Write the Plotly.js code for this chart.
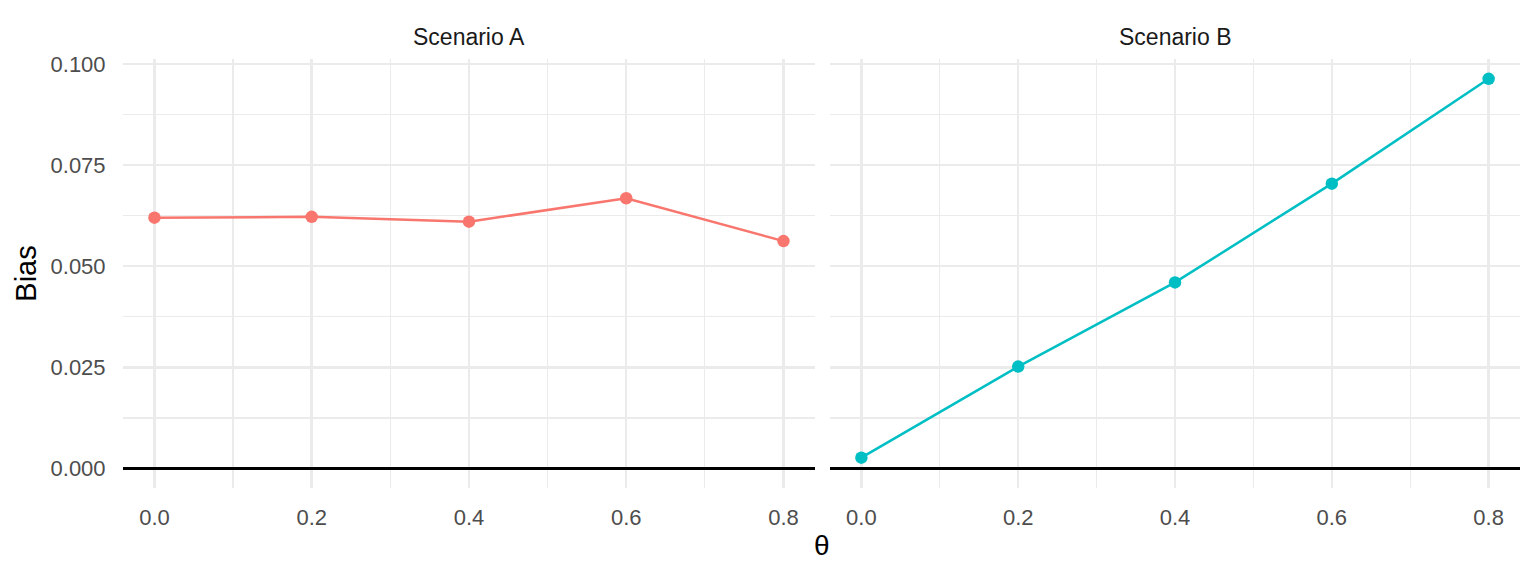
<!DOCTYPE html>
<html>
<head>
<meta charset="utf-8">
<script src="https://cdn.plot.ly/plotly-3.0.1.min.js"></script>
<style>
  html, body { margin: 0; padding: 0; background: #fff; }
  #chart { width: 1536px; height: 576px; }
</style>
</head>
<body>
<div id="chart"></div>
<script>
// theta values shared by both panels
const theta = [0.0, 0.2, 0.4, 0.6, 0.8];
// bias
const biasA = [0.0620, 0.0622, 0.0610, 0.0668, 0.0562];
const biasB = [0.0027, 0.0252, 0.0460, 0.0704, 0.0963];
const panelNames = ['Scenario A', 'Scenario B'];
const panelColors = ['#F8766D', '#00BFC4'];

const FONT = 'Liberation Sans, Arial, sans-serif';
const GRID = '#EBEBEB';

const traces = [
    { x: theta, y: biasA, type: 'scatter', mode: 'lines+markers', name: panelNames[0],
      xaxis: 'x', yaxis: 'y',
      line: {color: panelColors[0], width: 2.5}, marker: {color: panelColors[0], size: 12.5} },
    { x: theta, y: biasB, type: 'scatter', mode: 'lines+markers', name: panelNames[1],
      xaxis: 'x2', yaxis: 'y2',
      line: {color: panelColors[1], width: 2.5}, marker: {color: panelColors[1], size: 12.5} }
];

// axis settings shared by both facets
const xBase = {
    range: [-0.04, 0.84], tick0: 0, dtick: 0.2, tickformat: '.1f',
    showgrid: true, gridcolor: GRID, gridwidth: 2.5,
    minor: {dtick: 0.1, showgrid: true, gridcolor: GRID, gridwidth: 1.3},
    zeroline: false, showline: false,
    ticks: 'outside', ticklen: 10, tickcolor: 'rgba(0,0,0,0)',
    tickfont: {family: FONT, size: 22, color: '#4D4D4D'}
};
const yBase = {
    range: [-0.0048, 0.1012], tick0: 0, dtick: 0.025, tickformat: '.3f',
    showgrid: true, gridcolor: GRID, gridwidth: 2.5,
    minor: {dtick: 0.0125, showgrid: true, gridcolor: GRID, gridwidth: 1.3},
    zeroline: true, zerolinecolor: '#000000', zerolinewidth: 2.5, showline: false,
    ticks: 'outside', ticklen: 12, tickcolor: 'rgba(0,0,0,0)',
    tickfont: {family: FONT, size: 22, color: '#4D4D4D'}
};

const layout = {
    width: 1536, height: 576,
    margin: {l: 123, r: 16, t: 59, b: 88},
    paper_bgcolor: '#ffffff', plot_bgcolor: '#ffffff',
    showlegend: false,
    font: {family: FONT},
    xaxis: {...xBase, domain: [0, 0.4953], anchor: 'y'},
    xaxis2: {...xBase, domain: [0.5061, 1], anchor: 'y2'},
    yaxis: {...yBase, anchor: 'x'},
    yaxis2: {...yBase, anchor: 'x2', matches: 'y', showticklabels: false},
    annotations: [
        { text: panelNames[0], xref: 'x domain', yref: 'y domain', x: 0.5, y: 1,
          xanchor: 'center', yanchor: 'bottom', yshift: 7, showarrow: false,
          font: {family: FONT, size: 23, color: '#1A1A1A'} },
        { text: panelNames[1], xref: 'x2 domain', yref: 'y2 domain', x: 0.5, y: 1,
          xanchor: 'center', yanchor: 'bottom', yshift: 7, showarrow: false,
          font: {family: FONT, size: 23, color: '#1A1A1A'} },
        { text: 'θ', xref: 'paper', yref: 'paper', x: 0.5, y: -0.133,
          xanchor: 'center', yanchor: 'middle', showarrow: false,
          font: {family: FONT, size: 28, color: '#000000'} },
        { text: 'Bias', xref: 'paper', yref: 'paper', x: -0.07, y: 0.5, textangle: -90,
          xanchor: 'center', yanchor: 'middle', showarrow: false,
          font: {family: FONT, size: 29, color: '#000000'} }
    ]
};

Plotly.newPlot('chart', traces, layout, {displayModeBar: false, staticPlot: true});
</script>
</body>
</html>
